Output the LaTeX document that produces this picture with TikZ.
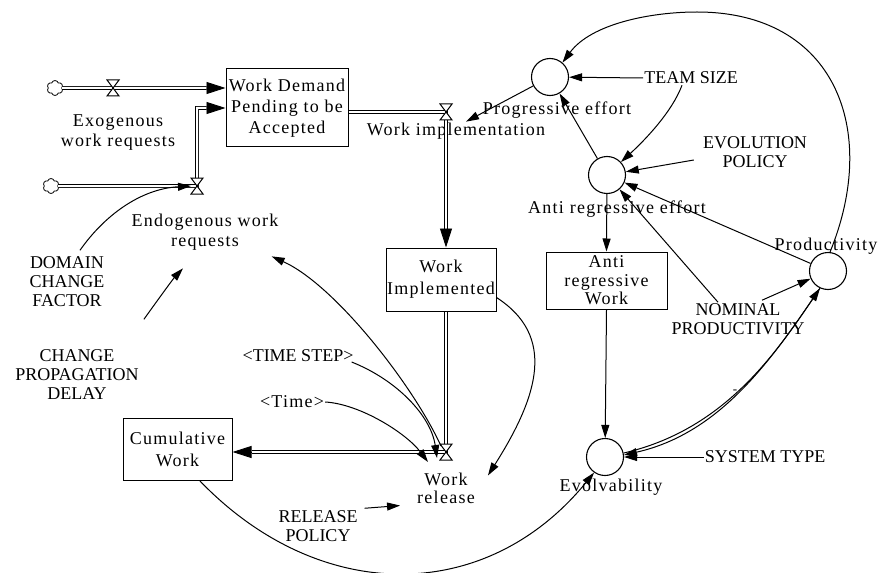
\documentclass[tikz,border=0pt]{standalone}
\usepackage{fontspec}
\setmainfont{Liberation Serif}
\newfontfamily\lsf{Liberation Serif}[LetterSpace=7]
\usetikzlibrary{arrows.meta,shapes.symbols,calc}
\begin{document}
\begin{tikzpicture}[x=1pt,y=-1pt,
  lab/.style={font=\lsf\fontsize{18}{20}\selectfont, align=center, inner sep=1pt},
  capl/.style={font=\fontsize{18}{19}\selectfont, align=center, inner sep=1pt},
  stock/.style={draw, line width=1pt, lab, inner sep=0pt},
  aux/.style={draw, circle, line width=1.1pt, minimum size=37pt, inner sep=0pt},
  info/.style={draw, line width=1pt, -{Triangle[length=13pt,width=8pt]}},
  pipe/.style={draw, double, double distance=2pt, line width=0.9pt},
  pipehead/.style={draw, line width=0.9pt, -{Triangle[length=19pt,width=12pt]}},
  src/.style={draw, cloud, cloud puffs=6, cloud ignores aspect, minimum width=16pt, minimum height=15pt, inner sep=0pt, line width=0.8pt, fill=white},
  valve/.pic={\draw[line width=1pt, fill=white] (-6,-8)--(6,-8)--(-6,8)--(6,8)--cycle;}
]
\fill[white] (0,0) rectangle (882,572);
\useasboundingbox (0,0) rectangle (882,572);

% stocks
\node[stock, minimum width=122pt, minimum height=78pt, font=\lsf\fontsize{18}{21}\selectfont] (wd) at (287,108) {Work Demand\\Pending to be\\Accepted};
\node[stock, minimum width=110pt, minimum height=63pt, font=\lsf\fontsize{18}{22}\selectfont] (wim) at (441,279.5) {Work\\Implemented};
\node[stock, minimum width=109pt, minimum height=62pt, font=\lsf\fontsize{18}{22}\selectfont] (cw) at (177.5,449) {Cumulative\\Work};
\node[stock, minimum width=121pt, minimum height=57pt, font=\lsf\fontsize{18}{18.5}\selectfont] (arw) at (606.5,280.5) {Anti\\regressive\\Work};

% auxiliaries
\node[aux] (pe) at (550,77) {};
\node[aux] (ae) at (607,175) {};
\node[aux] (pr) at (828,271) {};
\node[aux] (ev) at (605,457) {};

% labels
\node[lab] (pel) at (557,110) {Progressive effort};
\node[lab] (ael) at (617,209) {Anti regressive effort};
\node[lab] (prl) at (826,246) {Productivity};
\node[lab] (evl) at (611,487) {Evolvability};
\node[lab] (exo) at (118,133) {Exogenous\\work requests};
\node[lab] (endo) at (205,232) {Endogenous work\\requests};
\node[lab] (wi) at (456,131) {Work implementation};
\node[lab, font=\lsf\fontsize{18}{18}\selectfont] (wr) at (446,488) {Work\\release};
\node[capl] (ts) at (691,78) {TEAM SIZE};
\node[capl] (ep) at (755,152) {EVOLUTION\\POLICY};
\node[capl] (nom) at (738,319) {NOMINAL\\PRODUCTIVITY};
\node[capl] (st) at (765,457) {SYSTEM TYPE};
\node[capl] (dcf) at (67,281.5) {DOMAIN\\CHANGE\\FACTOR};
\node[capl] (cpd) at (77,374.5) {CHANGE\\PROPAGATION\\DELAY};
\node[capl] (tsp) at (298,356) {<TIME STEP>};
\node[lab] (tm) at (292,402) {<Time>};
\node[capl] (rp) at (318,526) {RELEASE\\POLICY};
\node[capl, font=\fontsize{13}{13}\selectfont] (mn) at (735,392) {-};

% flows
\coordinate (v1) at (113,88);
\coordinate (v2) at (197,186);
\coordinate (v3) at (446,112);
\coordinate (v4) at (446,452);
\node[src] (c1) at (55,88) {};
\node[src] (c2) at (51,186) {};

\draw[pipe] (c1.east) -- ($(wd.west)+(-19,-20)$);
\draw[pipehead] ($(wd.west)+(-19,-20)$) -- ($(wd.west)+(0,-20)$);
\draw[pipe] (c2.east) -- (v2) -- (v2 |- wd.west) -- ($(wd.west)+(-19,0)$);
\draw[pipehead] ($(wd.west)+(-19,0)$) -- (wd.west);
\draw[pipe] (wd.east |- v3) -- (v3) -- ($(v3 |- wim.north)+(0,-19)$);
\draw[pipehead] ($(v3 |- wim.north)+(0,-19)$) -- (v3 |- wim.north);
\draw[pipe] (v3 |- wim.south) -- (v4) -- ($(cw.east |- v4)+(19,0)$);
\draw[pipehead] ($(cw.east |- v4)+(19,0)$) -- (cw.east |- v4);
\pic at (v1) {valve};
\pic at (v2) {valve};
\pic at (v3) {valve};
\pic at (v4) {valve};

% information links
\draw[info] (ts.west) -- (pe);
\draw[info] ($(ts.south)+(-9,0)$) .. controls (672,112) and (645,140) .. (ae.43);
\draw[info] ($(ep.west)+(-8,8)$) -- (ae);
\draw[info] ($(nom.north)+(-20,0)$) -- (ae);
\draw[info] ($(nom.north)+(24,-2)$) -- (pr);
\draw[info] (pr) -- (ae);
\draw[info] (ae) -- (pe);
\coordinate (wiT) at ($(wi.north)+(10,0)$);
\draw[info] (pe) -- (wiT);
\draw[info] (ae) -- (arw.north);
\draw[info] (arw.south) -- (ev);
\draw[info] (st.west) -- (ev);
\draw[info] (pr.84) .. controls (880,130) and (835,12) .. (697,12) .. controls (650,12) and (591,24) .. (pe.49);
\draw[info] (ev.12) .. controls (723,430) and (774,356) .. (pr.245);
\draw[info] (pr.245) .. controls (774,356) and (722,433) .. (ev.6);
\draw[info] ($(cw.south)+(22,0)$) .. controls (318,604) and (485,606) .. (ev.235);
\draw[info] ($(wim.south east)+(0,-14)$) .. controls (556,336) and (539,395) .. ($(wr.north east)+(12,4)$);
\draw[info] ($(tsp.east)+(-3,6)$) .. controls (397,380) and (431,416) .. ($(v4)+(-9,6)$);
\draw[info] (tm.east) .. controls (360,404) and (406,433) .. ($(v4)+(-18,10)$);
\draw[info] ($(v4)+(-5,-6)$) .. controls (413,385) and (335,285) .. ($(endo.south east)+(-8,5)$);
\draw[info] ($(dcf.north)+(13,-5)$) .. controls (104,216) and (140,189) .. ($(v2)+(-6,0)$);
\draw[info] ($(cpd.north east)+(4,-29)$) .. controls (157,301) and (173,279) .. ($(endo.south)+(-22,17)$);
\draw[info] ($(rp.north east)+(6,-1)$) -- ($(wr.south west)+(-16,1)$);
\end{tikzpicture}
\end{document}
